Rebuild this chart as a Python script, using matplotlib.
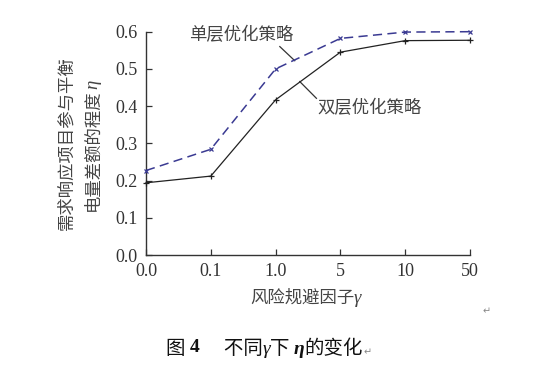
import matplotlib
matplotlib.use("Agg")
import matplotlib.pyplot as plt

# ---- data ----
categories = ["0.0", "0.1", "1.0", "5", "10", "50"]
single_layer = [0.227, 0.284, 0.500, 0.582, 0.599, 0.600]   # 单层优化策略 (dashed)
double_layer = [0.194, 0.212, 0.417, 0.545, 0.576, 0.577]   # 双层优化策略 (solid)
y_ticks = [0.0, 0.1, 0.2, 0.3, 0.4, 0.5, 0.6]
y_tick_labels = ["0.0", "0.1", "0.2", "0.3", "0.4", "0.5", "0.6"]

plt.rcParams['font.family'] = ['Liberation Serif', 'Noto Sans CJK SC', 'DejaVu Sans']

CJK = ['Noto Sans CJK SC']
SERIF = ['Liberation Serif']

fig = plt.figure(figsize=(5.45, 3.75), dpi=100)
ax = fig.add_axes([146/545, 0.32, (470-146)/545, (255-31.7)/375])

x = list(range(len(categories)))
ax.plot(x, single_layer, color='#3a3a92', lw=1.1, ls=(0, (6, 3.5)),
        marker='x', ms=3.5, mew=0.9, clip_on=False, zorder=3)
ax.plot(x, double_layer, color='#222222', lw=0.9, ls='-',
        marker='+', ms=5, mew=0.9, clip_on=False, zorder=3)

ax.set_xlim(0, len(categories) - 1)
ax.set_ylim(0, 0.6)
ax.set_xticks(x)
ax.set_xticklabels(categories)
ax.set_yticks(y_ticks)
ax.set_yticklabels(y_tick_labels)

for s in ['top', 'right']:
    ax.spines[s].set_visible(False)
for s in ['left', 'bottom']:
    ax.spines[s].set_linewidth(1.0)
    ax.spines[s].set_color('#333333')

ax.tick_params(direction='in', length=4, width=0.9, color='#333333',
               labelsize=13, labelcolor='#333333')
ax.tick_params(axis='x', pad=6)
ax.tick_params(axis='y', pad=6)

# annotations
ax.text(1.464, 0.591, "单层优化策略", ha='center', va='center',
        fontsize=12.5, color='#444444', family=CJK)
ax.plot([2.065, 2.296], [0.56, 0.522], color='#333333', lw=0.9)
ax.text(3.45, 0.395, "双层优化策略", ha='center', va='center',
        fontsize=12.5, color='#444444', family=CJK)
ax.plot([2.373, 2.63], [0.466, 0.421], color='#333333', lw=0.9)

# y label (two lines)
fig.text(66.7/545, 1 - 143/375, "需求响应项目参与平衡", rotation=90,
         ha='center', va='center', fontsize=12.5, color='#444444', family=CJK)
t2 = fig.text(93/545, 1 - 150/375, "电量差额的程度", rotation=90,
              ha='center', va='center', fontsize=12.5, color='#444444', family=CJK)
ax.annotate("η", xy=(0.5, 1), xycoords=t2, rotation=90, ha='center', va='bottom',
            family=SERIF, style='italic', fontsize=13.5, color='#444444',
            annotation_clip=False)

# x label
t3 = fig.text(302/545, 1 - 298/375, "风险规避因子", ha='center', va='center',
              fontsize=12.5, color='#444444', family=CJK)
ax.annotate("γ", xy=(1, 0.45), xycoords=t3, ha='left', va='center',
            family=SERIF, style='italic', fontsize=13.5, color='#444444',
            annotation_clip=False)
fig.text(486.7/545, 1 - 311.7/375, "↵", ha='center', va='center',
         fontsize=7, color='#888888', family=['DejaVu Sans'])

# caption
cap = dict(fontsize=14, color='#111111')
c1 = fig.text(166/545, 1 - 348/375, "图 ", ha='left', va='center', family=CJK,
              fontweight='medium', **cap)
c2 = ax.annotate("4", xy=(1, 0.5), xycoords=c1, ha='left', va='center',
                 family=SERIF, fontweight='bold', annotation_clip=False, **cap)
c3 = ax.annotate("　 不同", xy=(1, 0.5), xycoords=c2, ha='left', va='center',
                 family=CJK, fontweight='medium', annotation_clip=False, **cap)
c4 = ax.annotate("γ", xy=(1, 0.45), xycoords=c3, ha='left', va='center',
                 family=SERIF, style='italic', annotation_clip=False, **cap)
c5 = ax.annotate("下 ", xy=(1, 0.55), xycoords=c4, ha='left', va='center',
                 family=CJK, fontweight='medium', annotation_clip=False, **cap)
c6 = ax.annotate("η", xy=(1, 0.45), xycoords=c5, ha='left', va='center',
                 family=SERIF, style='italic', fontweight='bold',
                 annotation_clip=False, **cap)
c7 = ax.annotate("的变化", xy=(1, 0.55), xycoords=c6, ha='left', va='center',
                 family=CJK, fontweight='medium', annotation_clip=False, **cap)
ax.annotate("↵", xy=(1, 0.3), xycoords=c7, ha='left', va='center',
            family=['DejaVu Sans'], fontsize=7, color='#888888', annotation_clip=False)

fig.savefig("out.png", dpi=100, facecolor='white')
